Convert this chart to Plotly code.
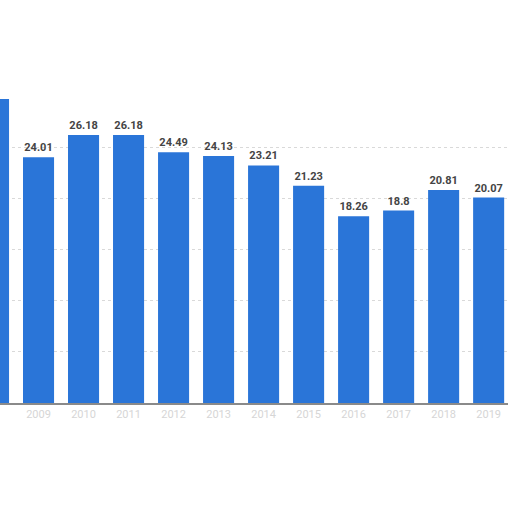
import plotly.graph_objects as go

# values (first bar is cut by the crop)
years = ['2008', '2009', '2010', '2011', '2012', '2013',
         '2014', '2015', '2016', '2017', '2018', '2019']
values = [29.7, 24.01, 26.18, 26.18, 24.49, 24.13,
          23.21, 21.23, 18.26, 18.8, 20.81, 20.07]
labels = ['29.7', '24.01', '26.18', '26.18', '24.49', '24.13',
          '23.21', '21.23', '18.26', '18.8', '20.81', '20.07']

bar_blue = '#2a75d8'

fig = go.Figure()
fig.add_trace(go.Bar(x=years,
                     y=values,
                     text=['<b>' + t + '</b>' for t in labels],
                     textposition='outside',
                     outsidetextfont=dict(family='Roboto, Arial', size=11, color='#444444'),
                     cliponaxis=False,
                     marker=dict(color=bar_blue, line=dict(width=0)),
                     hoverinfo='none'
                     ))

fig.update_layout(
    width=512, height=512,
    margin=dict(l=0, r=4, t=97, b=109),
    paper_bgcolor='white',
    plot_bgcolor='white',
    showlegend=False,
    bargap=0.31,
)
fig.update_xaxes(type='category',
                 range=[0.144, 11.43],
                 showgrid=False,
                 showline=True, linecolor='#8a8a8a', linewidth=2,
                 ticks='',
                 tickfont=dict(family='Roboto, Arial', size=11, color='#d6d6d6'),
                 )
fig.update_yaxes(range=[0, 29.9],
                 dtick=5,
                 showgrid=True, gridcolor='#d9d9d9', griddash='dot', gridwidth=1,
                 zeroline=False,
                 showticklabels=False,
                 )

# drop the default 8px body margin so the figure sits at the page corner
fig.write_html('out.html',
               config={'displayModeBar': False, 'staticPlot': True},
               post_script="document.body.style.margin='0';")
